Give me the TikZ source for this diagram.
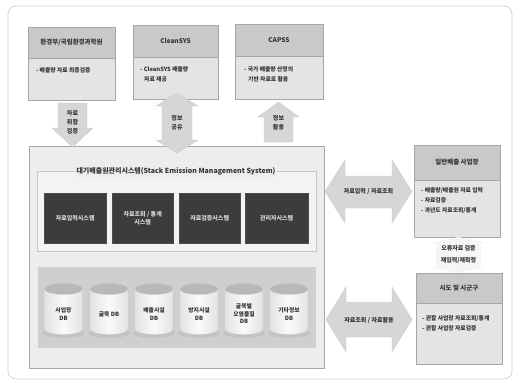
\documentclass[tikz,border=0pt]{standalone}
\usepackage{fontspec}
\setmainfont{Noto Sans CJK KR}
\definecolor{hdrc}{HTML}{C9C9C9}
\definecolor{bodyc}{HTML}{E4E4E4}
\definecolor{mainc}{HTML}{EDEDED}
\definecolor{innerc}{HTML}{F3F3F3}
\definecolor{darkc}{HTML}{3C3C3C}
\definecolor{dbc}{HTML}{CFCFCF}
\definecolor{arrc}{HTML}{D6D6D6}
\definecolor{txt}{HTML}{333333}
\definecolor{cyltop}{HTML}{B8B8B8}
\begin{document}
\begin{tikzpicture}[x=1pt,y=-1pt,
  hdr/.style={draw=gray!70, fill=hdrc, line width=0.7pt, inner sep=0pt, outer sep=0pt,
    font=\fontsize{6.5}{8}\selectfont\bfseries, text=txt, anchor=north west},
  bodyb/.style={draw=gray!70, fill=bodyc, line width=0.7pt, inner sep=0pt, outer sep=0pt, anchor=north west},
  btxt/.style={font=\fontsize{5.8}{10}\selectfont\bfseries, align=left, inner sep=0pt, anchor=north west, text=txt},
  darkbox/.style={fill=darkc, draw=black!70, minimum width=62pt, minimum height=50pt, inner sep=0pt,
    text=white!85!black, font=\fontsize{6}{8}\selectfont\bfseries, align=center, anchor=north west},
  blk/.style={fill=arrc, draw=gray!40, line width=0.4pt},
  atxt/.style={font=\fontsize{6}{9}\selectfont\bfseries, align=center, inner sep=0pt, text=txt},
  dbtxt/.style={font=\fontsize{5.8}{7.5}\selectfont\bfseries, align=center, inner sep=0pt, text=txt}
]
\useasboundingbox (0,0) rectangle (515,381);
% outer frame
\draw[gray!35, line width=0.8pt, rounded corners=8pt] (8,6) rectangle (512,379);

% top boxes
\node[hdr, minimum width=87pt, minimum height=31pt] (h1) at (28,27) {환경부/국립환경과학원};
\node[bodyb, minimum width=87pt, minimum height=42pt] (b1) at (h1.south west) {};
\node[btxt] (t1) at (36,67) {- 배출량 자료 최종검증};

\node[hdr, minimum width=85pt, minimum height=32pt] (h2) at (133,25) {CleanSYS};
\node[bodyb, minimum width=85pt, minimum height=42pt] (b2) at (h2.south west) {};
\node[btxt] (t2) at (140,66) {- CleanSYS 배출량\\\hspace*{4pt}자료 제공};

\node[hdr, minimum width=88pt, minimum height=32pt] (h3) at (235,24) {CAPSS};
\node[bodyb, minimum width=88pt, minimum height=43pt] (b3) at (h3.south west) {};
\node[btxt] (t3) at (244,66) {- 국가 배출량 산정의\\\hspace*{4pt}기반 자료로 활용};

% main box
\node[draw=gray!70, fill=mainc, line width=0.7pt, minimum width=295pt, minimum height=222pt,
      inner sep=0pt, anchor=north west] (main) at (29,146) {};
\node[draw=gray!45, fill=innerc, line width=0.6pt, minimum width=279pt, minimum height=80pt,
      inner sep=0pt, anchor=north west] (inner) at (37,171) {};
\node[fill=mainc, inner sep=2pt, font=\fontsize{7}{8}\selectfont\bfseries, text=txt] (title) at (176,171)
  {대기배출원관리시스템(Stack Emission Management System)};

\node[darkbox] (s1) at (44,193) {자료입력시스템};
\node[darkbox, minimum width=61pt] (s2) at (112,193) {자료조회 / 통계\\시스템};
\node[darkbox, minimum width=61pt] (s3) at (179,193) {자료검증시스템};
\node[darkbox, minimum width=63pt] (s4) at (245,193) {관리자시스템};

\node[fill=dbc, minimum width=278pt, minimum height=81pt, inner sep=0pt, anchor=north west] (dbarea) at (38,267) {};

% cylinders
\foreach \cx/\lbl [count=\i] in {63.5/{사업장\\DB}, 109/{굴뚝 DB}, 154/{배출시설\\DB}, 199/{방지시설\\DB}, 244/{굴뚝별\\오염물질\\DB}, 289/{기타정보\\DB}}{
  \fill[gray!55, opacity=0.5] (\cx,333) ellipse (21pt and 5pt);
  \shade[left color=gray!22, right color=gray!22, middle color=white!96!gray, draw=gray!40, line width=0.3pt]
    (\cx-19,289) -- (\cx-19,329) arc[start angle=180, end angle=360, x radius=19pt, y radius=5.5pt] -- (\cx+19,289) -- cycle;
  \fill[cyltop, draw=gray!45, line width=0.3pt] (\cx,289) ellipse (19pt and 5.5pt);
  \node[dbtxt] (db\i) at (\cx,314) {\lbl};
}

% vertical block arrows
\path[blk] (58,103) -- (87,103) -- (87,128) -- (93,128) -- (72.5,147) -- (52,128) -- (58,128) -- cycle;
\node[atxt] (a1) at (72.5,122) {자료\\취합\\검증};

\path[blk] (177,93) -- (198,106) -- (192,106) -- (192,140) -- (198,140) -- (177,153) -- (156,140) -- (162,140) -- (162,106) -- (156,106) -- cycle;
\node[atxt] (a2) at (177,123) {정보\\공유};

\path[blk] (278.5,102) -- (299,117) -- (293,117) -- (293,142) -- (264,142) -- (264,117) -- (258,117) -- cycle;
\node[atxt] (a3) at (278.5,123) {정보\\활용};

% horizontal block arrows
\path[blk] (325,191.5) -- (345,160) -- (345,176) -- (392,176) -- (392,160) -- (412,191.5) -- (392,223) -- (392,208) -- (345,208) -- (345,223) -- cycle;
\node[atxt] (a4) at (368.5,192) {자료입력 / 자료조회};

\path[blk] (326,319.5) -- (346,287) -- (346,302) -- (392,302) -- (392,287) -- (412,319.5) -- (392,352) -- (392,337) -- (346,337) -- (346,352) -- cycle;
\node[atxt] (a5) at (369,320) {자료조회 / 자료활용};

% right boxes
\node[hdr, minimum width=86pt, minimum height=35pt] (h4) at (414,145) {일반배출 사업장};
\node[bodyb, minimum width=86pt, minimum height=57pt] (b4) at (h4.south west) {};
\node[btxt] (t4) at (421,187) {- 배출량/배출원 자료 입력\\- 자료검증\\- 과년도 자료조회/통계};

\path[fill=gray!8] (458.5,237) -- (487,243) -- (481,243) -- (481,267) -- (487,267) -- (458.5,273) -- (430,267) -- (436,267) -- (436,243) -- (430,243) -- cycle;
\node[atxt, font=\fontsize{6}{11.5}\selectfont\bfseries] (a6) at (458.5,254.5) {오류자료 검증\\재입력/재확정};

\node[hdr, minimum width=86pt, minimum height=30pt] (h5) at (416,273) {시도 및 시군구};
\node[bodyb, minimum width=86pt, minimum height=61pt] (b5) at (h5.south west) {};
\node[btxt] (t5) at (422,315) {- 관할 사업장 자료조회/통계\\- 관할 사업장 자료검증};
\end{tikzpicture}
\end{document}
